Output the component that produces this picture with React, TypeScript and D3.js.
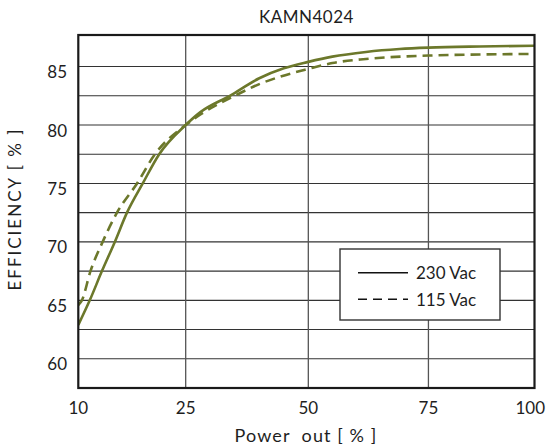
import React from "react";
import * as d3 from "d3";

const title = "KAMN4024";
const xTicks = [10, 25, 50, 75, 100];
const yTicks = [60, 65, 70, 75, 80, 85];
const yGrid = [60, 62.5, 65, 67.5, 70, 72.5, 75, 77.5, 80, 82.5, 85];

const power230 = [10, 11.6, 13.3, 15.1, 16.8, 19.0, 21.3, 25, 28, 34, 40, 45, 50, 55, 62, 69, 75, 87, 100];
const eff230 = [62.9, 65, 67.5, 70, 72.5, 75, 77.5, 80, 81.1, 82.5, 84.0, 84.85, 85.4, 85.85, 86.25, 86.5, 86.62, 86.72, 86.78];

const power115 = [10, 10.5, 11.7, 13.4, 15.4, 18.2, 20.7, 25, 28, 35, 40, 44, 50, 55, 62, 75, 87, 100];
const eff115 = [64.6, 65, 67.5, 70, 72.5, 75, 77.5, 80, 80.9, 82.5, 83.5, 84.1, 84.8, 85.3, 85.65, 85.94, 86.03, 86.08];

const legendLabels = ["230 Vac", "115 Vac"];

const W = 546, H = 446;
const M = { top: 35, right: 11.5, bottom: 58, left: 78.3 };
const FONT = "Lato, 'Open Sans', sans-serif";
const COLOR = "#6c782b";
const TXT = "#1e1e1e";

export default function App() {
  const iw = W - M.left - M.right;
  const ih = H - M.top - M.bottom;
  const fr = [0, 0.2354, 0.5042, 0.7675, 1];
  const x = d3.scaleLinear().domain(xTicks).range(fr.map((f) => M.left + f * iw));
  const y = d3.scaleLinear().domain([57.5, 87.7]).range([M.top + ih, M.top]);

  const line = d3
    .line<[number, number]>()
    .x((d) => x(d[0]))
    .y((d) => y(d[1]))
    .curve(d3.curveMonotoneX);
  const d230 = line(power230.map((p, i) => [p, eff230[i]]) as [number, number][]) || "";
  const d115 = line(power115.map((p, i) => [p, eff115[i]]) as [number, number][]) || "";

  const lx = 340, ly = 249, lw = 160, lh = 71;

  return (
    <svg width={W} height={H} style={{ position: "absolute", left: 0, top: 0, background: "#fff" }} fontFamily={FONT}>
      <rect x={0} y={0} width={W} height={H} fill="#fff" />
      <defs>
        <clipPath id="plot">
          <rect x={M.left} y={M.top} width={iw} height={ih} />
        </clipPath>
      </defs>
      {yGrid.map((v) => (
        <line key={"h" + v} x1={M.left} x2={M.left + iw} y1={y(v)} y2={y(v)} stroke="#333" strokeWidth={1.1} />
      ))}
      {xTicks.slice(1, -1).map((v) => (
        <line key={"v" + v} x1={x(v)} x2={x(v)} y1={M.top} y2={M.top + ih} stroke="#555" strokeWidth={1.3} />
      ))}
      <g clipPath="url(#plot)">
        <path d={d230} fill="none" stroke={COLOR} strokeWidth={2.6} />
        <path d={d115} fill="none" stroke={COLOR} strokeWidth={2.6} strokeDasharray="10 6" />
      </g>
      <rect x={M.left} y={M.top} width={iw} height={ih} fill="none" stroke="#1a1a1a" strokeWidth={2.2} />
      {/* legend */}
      <rect x={lx} y={ly} width={lw} height={lh} fill="#fff" stroke="#333" strokeWidth={1.4} />
      <line x1={358} x2={408} y1={272.7} y2={272.7} stroke="#111" strokeWidth={1.6} />
      <line x1={358} x2={408} y1={299.3} y2={299.3} stroke="#111" strokeWidth={1.6} strokeDasharray="9 6" />
      <text x={416} y={279} fontSize={17} fill={TXT}>{legendLabels[0]}</text>
      <text x={416} y={305.5} fontSize={17} fill={TXT}>{legendLabels[1]}</text>
      {/* ticks */}
      {yTicks.map((v) => (
        <text key={"yt" + v} x={67} y={y(v) + 11.5} textAnchor="end" fontSize={17} fill={TXT}>{v}</text>
      ))}
      {xTicks.map((v, i) => (
        <text key={"xt" + v} x={i === xTicks.length - 1 ? 545 : x(v)} y={414} textAnchor={i === xTicks.length - 1 ? "end" : "middle"} fontSize={17} fill={TXT}>{v}</text>
      ))}
      <text x={M.left + iw / 2} y={23} textAnchor="middle" fontSize={17} letterSpacing={0.5} fill={TXT}>{title}</text>
      <text x={306} y={442} textAnchor="middle" fontSize={18} letterSpacing={1.1} fill={TXT} style={{ whiteSpace: "pre" }}>{"Power  out [ % ]"}</text>
      <text transform={`translate(21,209) rotate(-90)`} textAnchor="middle" fontSize={17} letterSpacing={2} fill={TXT} style={{ whiteSpace: "pre" }}>{"EFFICIENCY [ % ]"}</text>
    </svg>
  );
}
